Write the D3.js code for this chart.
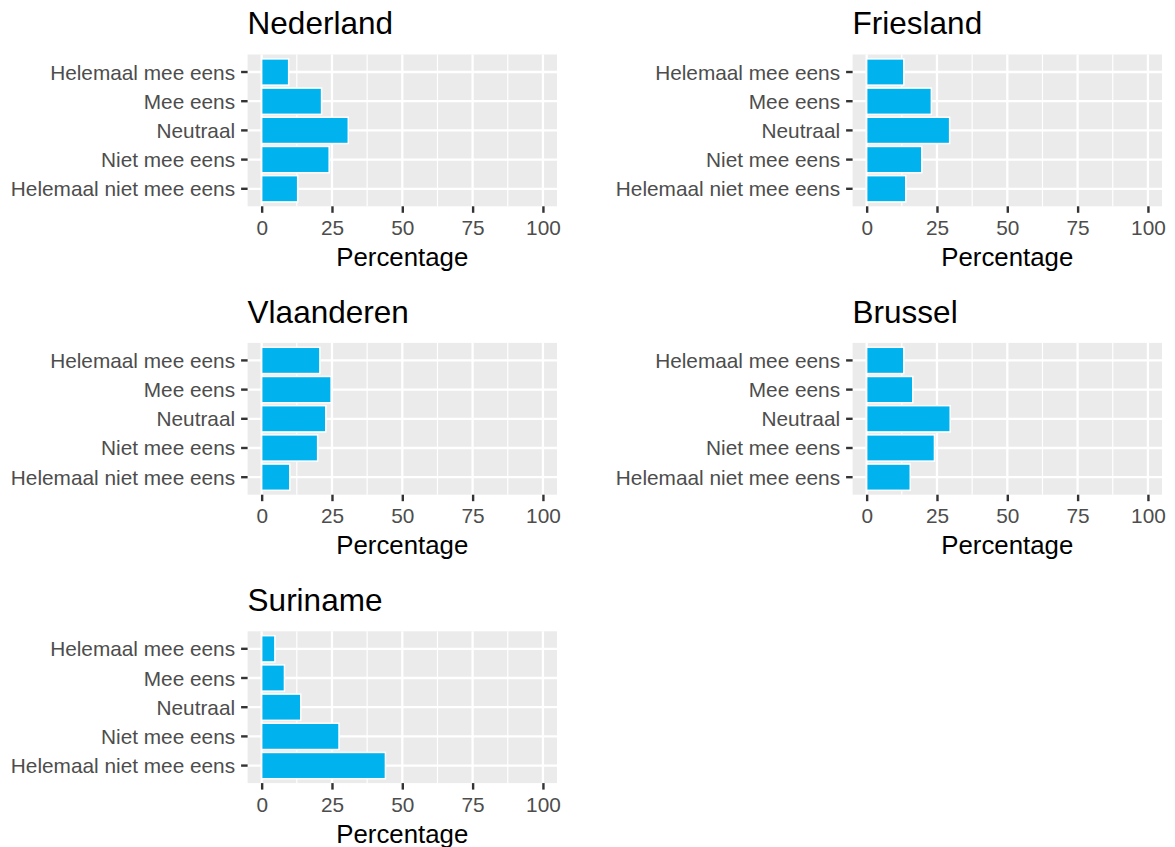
<!DOCTYPE html>
<html>
<head>
<meta charset="utf-8">
<script src="https://cdn.jsdelivr.net/npm/d3@7"></script>
<style>
  html, body { margin: 0; padding: 0; background: #ffffff; }
  svg { display: block; font-family: "Liberation Sans", Arial, Helvetica, sans-serif; }
</style>
</head>
<body>
<svg id="chart" width="1175" height="847"></svg>
<script>
// Answer categories, top to bottom
const categories = ["Helemaal mee eens", "Mee eens", "Neutraal", "Niet mee eens", "Helemaal niet mee eens"];

// Regions, in panel order
const regions = ["Nederland", "Friesland", "Vlaanderen", "Brussel", "Suriname"];

// Percentage per category, one array per region
const nederland  = [9.6, 21.3, 30.8, 24.0, 12.8];
const friesland  = [13.2, 23.0, 29.5, 19.6, 13.9];
const vlaanderen = [20.7, 24.7, 22.8, 19.9, 10.0];
const brussel    = [13.2, 16.4, 29.7, 24.1, 15.5];
const suriname   = [4.7, 8.1, 13.9, 27.5, 44.0];

const xTicks = [0, 25, 50, 75, 100];
const xMinor = [12.5, 37.5, 62.5, 87.5];
const xTitle = "Percentage";

const seriesByRegion = [nederland, friesland, vlaanderen, brussel, suriname];

// Panel geometry
const panelW = 309.4, panelH = 151.8;
const colX = [247.6, 852.6];
const rowY = [54.5, 342.9, 631.3];

const svg = d3.select("#chart");

const x = d3.scaleLinear().domain([-5, 105]).range([0, panelW]);
const y = d3.scaleBand().domain(categories).range([0, panelH])
  .paddingInner(0.1).paddingOuter(0.15);

regions.forEach((name, i) => {
  const values = seriesByRegion[i];
  const px = colX[i % 2], py = rowY[Math.floor(i / 2)];
  const g = svg.append("g").attr("transform", `translate(${px},${py})`);

  // panel background
  g.append("rect").attr("width", panelW).attr("height", panelH).attr("fill", "#EBEBEB");

  // minor vertical grid
  g.selectAll("line.minor").data(xMinor).enter().append("line")
    .attr("x1", d => x(d)).attr("x2", d => x(d))
    .attr("y1", 0).attr("y2", panelH)
    .attr("stroke", "#ffffff").attr("stroke-width", 1.2);

  // major vertical grid
  g.selectAll("line.majx").data(xTicks).enter().append("line")
    .attr("x1", d => x(d)).attr("x2", d => x(d))
    .attr("y1", 0).attr("y2", panelH)
    .attr("stroke", "#ffffff").attr("stroke-width", 2.3);

  // major horizontal grid
  g.selectAll("line.majy").data(categories).enter().append("line")
    .attr("x1", 0).attr("x2", panelW)
    .attr("y1", d => y(d) + y.bandwidth() / 2).attr("y2", d => y(d) + y.bandwidth() / 2)
    .attr("stroke", "#ffffff").attr("stroke-width", 2.3);

  // bars
  g.selectAll("rect.bar").data(categories.map((c, k) => ({ c, v: values[k] })))
    .enter().append("rect")
    .attr("x", x(0))
    .attr("y", d => y(d.c))
    .attr("width", d => x(d.v) - x(0))
    .attr("height", y.bandwidth())
    .attr("fill", "#00B2EE")
    .attr("stroke", "#ffffff")
    .attr("stroke-width", 1.5);

  // x axis
  const xa = g.append("g").attr("transform", `translate(0,${panelH})`)
    .call(d3.axisBottom(x).tickValues(xTicks).tickSize(6.5).tickSizeOuter(0).tickPadding(7.5));
  xa.select(".domain").remove();
  xa.selectAll(".tick line").attr("stroke", "#333333").attr("stroke-width", 2.4);
  xa.selectAll(".tick text").attr("fill", "#4D4D4D").style("font-size", "20.8px");

  // y axis
  const ya = g.append("g")
    .call(d3.axisLeft(y).tickSize(6.5).tickSizeOuter(0).tickPadding(6));
  ya.select(".domain").remove();
  ya.selectAll(".tick line").attr("stroke", "#333333").attr("stroke-width", 2.4);
  ya.selectAll(".tick text").attr("fill", "#4D4D4D").attr("dy", "0.36em").style("font-size", "20.8px");

  // panel title
  g.append("text").attr("x", 0).attr("y", -20.3)
    .attr("fill", "#000000").style("font-size", "31.5px").text(name);

  // x axis title
  g.append("text").attr("x", panelW / 2).attr("y", panelH + 59.5)
    .attr("text-anchor", "middle").attr("fill", "#000000")
    .style("font-size", "25.8px").text(xTitle);
});
</script>
</body>
</html>
